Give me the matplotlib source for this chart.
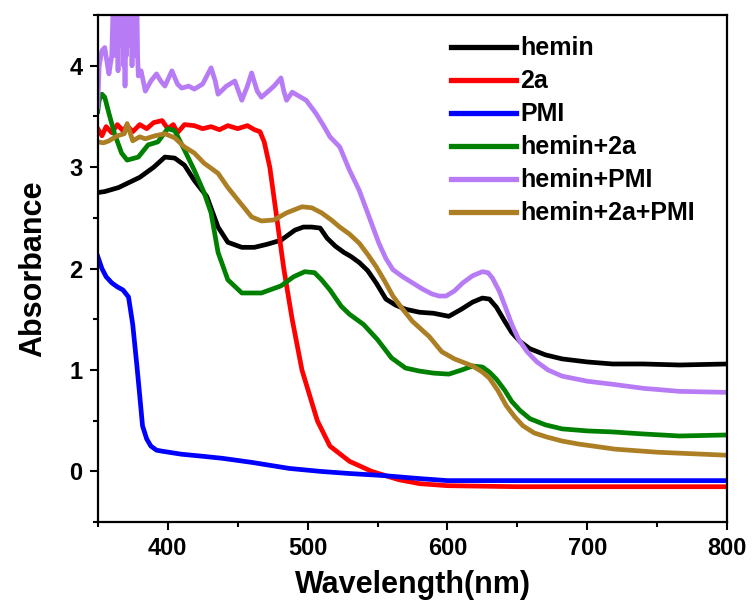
import matplotlib

matplotlib.use("Agg")

import matplotlib.pyplot as plt
from matplotlib.ticker import MultipleLocator

plt.rcParams["font.family"] = ["Liberation Sans", "DejaVu Sans"]
plt.rcParams["font.weight"] = "bold"

# hemin
hemin_wl = [350, 355, 360, 365, 371, 380, 390, 398, 405, 412, 419, 428, 436, 443,
            453, 462, 471, 481, 491, 497, 503, 509, 514, 520, 526, 531, 537, 543,
            549, 556, 563, 570, 580, 590, 601, 610, 618, 625, 630, 635, 641, 646,
            652, 659, 670, 682, 700, 718, 740, 766, 800]
hemin_abs = [2.75, 2.76, 2.78, 2.80, 2.84, 2.90, 3.00, 3.10, 3.09, 3.02, 2.87, 2.71,
             2.41, 2.26, 2.21, 2.21, 2.24, 2.28, 2.38, 2.41, 2.41, 2.40, 2.30, 2.22,
             2.16, 2.12, 2.06, 1.98, 1.86, 1.70, 1.64, 1.60, 1.57, 1.56, 1.53, 1.60,
             1.67, 1.71, 1.70, 1.62, 1.48, 1.37, 1.28, 1.21, 1.15, 1.11, 1.08, 1.06,
             1.06, 1.05, 1.06]

# 2a
a2_wl = [350, 353, 356, 360, 364, 368, 371, 375, 380, 385, 390, 396, 400, 404, 407,
         412, 419, 425, 431, 437, 443, 450, 457, 462, 466, 469, 473, 478, 483, 489,
         496, 507, 516, 530, 546, 565, 580, 600, 650, 700, 750, 800]
a2_abs = [3.38, 3.31, 3.40, 3.34, 3.42, 3.36, 3.41, 3.35, 3.42, 3.38, 3.44, 3.46,
          3.38, 3.42, 3.34, 3.42, 3.41, 3.38, 3.40, 3.37, 3.41, 3.38, 3.41, 3.37,
          3.35, 3.25, 3.00, 2.50, 2.00, 1.50, 1.00, 0.50, 0.25, 0.10, 0.00, -0.08,
          -0.12, -0.14, -0.15, -0.15, -0.15, -0.15]

# PMI
pmi_wl = [350, 353, 356, 360, 364, 368, 372, 375, 378, 380, 382, 385, 388, 392, 396,
          410, 425, 439, 460, 487, 510, 530, 554, 580, 600, 650, 700, 750, 800]
pmi_abs = [2.12, 2.00, 1.92, 1.86, 1.82, 1.79, 1.72, 1.45, 1.04, 0.75, 0.45, 0.32,
           0.25, 0.21, 0.20, 0.17, 0.15, 0.13, 0.09, 0.03, 0.00, -0.02, -0.04,
           -0.07, -0.09, -0.09, -0.09, -0.09, -0.09]

# hemin+2a
h2a_wl = [350, 351, 353, 355, 358, 362, 367, 371, 379, 386, 393, 400, 405, 412, 419,
          426, 431, 436, 443, 453, 467, 481, 490, 498, 505, 510, 516, 524, 530, 540,
          550, 560, 570, 580, 590, 601, 610, 618, 625, 630, 635, 641, 646, 652, 659,
          670, 682, 700, 718, 740, 766, 800]
h2a_abs = [3.55, 3.66, 3.72, 3.69, 3.53, 3.33, 3.14, 3.07, 3.10, 3.22, 3.25, 3.38,
           3.36, 3.17, 2.97, 2.75, 2.55, 2.16, 1.89, 1.76, 1.76, 1.83, 1.92, 1.97,
           1.96, 1.89, 1.79, 1.63, 1.55, 1.45, 1.30, 1.12, 1.02, 0.99, 0.97, 0.96,
           1.00, 1.04, 1.03, 0.98, 0.91, 0.80, 0.69, 0.60, 0.52, 0.46, 0.42, 0.40,
           0.39, 0.37, 0.35, 0.36]

# hemin+PMI (noisy below 380 nm, clipped at the top of the frame)
hpmi_wl = [350, 351, 353, 355, 357, 358, 360, 361, 361.5, 362, 362.5, 363, 363.5,
           364, 364.5, 365, 365.5, 366, 366.5, 367, 367.5, 368, 368.5, 369, 369.5,
           370, 370.5, 371, 371.5, 372, 372.5, 373, 373.5, 374, 374.5, 375, 375.5,
           376, 376.5, 377, 377.5, 378, 378.5, 379, 381, 384, 388, 392,
           395, 398, 403, 407, 410, 415, 419, 425, 431, 434, 436, 442, 448, 453, 457,
           460, 464, 467, 472, 476, 481, 483, 485, 489, 494, 499, 506, 511, 516, 523,
           530, 537, 544, 551, 556, 561, 568, 575, 582, 589, 594, 599, 605, 611, 618,
           625, 629, 632, 637, 642, 646, 651, 657, 664, 672, 682, 700, 718, 740, 766,
           800]
hpmi_abs = [3.60, 4.00, 4.15, 4.18, 4.00, 3.92, 4.10, 4.60, 4.20, 4.80, 4.10, 4.80,
            4.30, 4.80, 3.95, 4.80, 4.25, 4.80, 4.20, 4.80, 4.35, 4.80, 4.00, 4.80,
            3.80, 4.80, 4.10, 4.80, 4.30, 4.80, 4.20, 4.80, 4.30, 4.80, 4.00, 4.80,
            4.30, 4.80, 4.10, 4.80, 4.40, 4.60, 4.10, 3.90, 3.95, 3.75, 3.85, 3.92,
            3.85, 3.80, 3.95, 3.82, 3.78, 3.80,
            3.77, 3.82, 3.98, 3.85, 3.72, 3.80, 3.85, 3.66, 3.80, 3.93, 3.75, 3.69,
            3.75, 3.80, 3.88, 3.75, 3.66, 3.74, 3.70, 3.66, 3.53, 3.42, 3.30, 3.20,
            2.97, 2.77, 2.51, 2.25, 2.10, 1.99, 1.92, 1.86, 1.80, 1.75, 1.73, 1.73,
            1.78, 1.86, 1.93, 1.97, 1.96, 1.91, 1.78, 1.60, 1.45, 1.30, 1.18, 1.08,
            1.00, 0.94, 0.89, 0.86, 0.82, 0.79, 0.78]

# hemin+2a+PMI
h2apmi_wl = [350, 354, 358, 364, 369, 371, 375, 380, 384, 391, 398, 405, 412, 419,
             426, 436, 443, 450, 460, 467, 476, 485, 496, 503, 510, 517, 523, 530,
             537, 543, 549, 555, 561, 568, 575, 587, 596, 605, 618, 625, 630, 636,
             642, 648, 654, 662, 671, 682, 694, 720, 750, 800]
h2apmi_abs = [3.25, 3.24, 3.26, 3.31, 3.33, 3.43, 3.26, 3.30, 3.28, 3.31, 3.33, 3.29,
              3.20, 3.14, 3.04, 2.94, 2.80, 2.68, 2.51, 2.47, 2.48, 2.55, 2.61, 2.60,
              2.55, 2.48, 2.41, 2.34, 2.25, 2.14, 2.02, 1.88, 1.73, 1.60, 1.48, 1.33,
              1.18, 1.11, 1.04, 0.98, 0.92, 0.80, 0.65, 0.54, 0.45, 0.38, 0.34, 0.30,
              0.27, 0.22, 0.19, 0.16]

series = [
    ("hemin", hemin_wl, hemin_abs, "black"),
    ("2a", a2_wl, a2_abs, "#ff0000"),
    ("PMI", pmi_wl, pmi_abs, "#0000ff"),
    ("hemin+2a", h2a_wl, h2a_abs, "#008000"),
    ("hemin+PMI", hpmi_wl, hpmi_abs, "#b77cf5"),
    ("hemin+2a+PMI", h2apmi_wl, h2apmi_abs, "#ad7f24"),
]

fig = plt.figure(figsize=(7.52, 6.03), dpi=100)
ax = fig.add_axes([0.130, 0.134, 0.837, 0.841])

for name, wl, ab, col in series:
    ax.plot(wl, ab, color=col, lw=3.4, label=name, solid_joinstyle="round")

ax.set_xlim(350, 800)
ax.set_ylim(-0.5, 4.5)
ax.xaxis.set_major_locator(MultipleLocator(100))
ax.xaxis.set_minor_locator(MultipleLocator(50))
ax.yaxis.set_major_locator(MultipleLocator(1))
ax.yaxis.set_minor_locator(MultipleLocator(0.5))

for s in ax.spines.values():
    s.set_linewidth(1.6)
ax.tick_params(which="both", direction="out", top=False, right=False, width=1.5)
ax.tick_params(which="major", length=6, pad=5, labelsize=17)
ax.tick_params(which="minor", length=3.5)
for lab in ax.get_xticklabels() + ax.get_yticklabels():
    lab.set_fontweight("bold")

ax.set_xlabel("Wavelength(nm)", fontsize=22, fontweight="bold", labelpad=7)
ax.set_ylabel("Absorbance", fontsize=22, fontweight="bold", labelpad=15)

leg = ax.legend(loc="upper left", bbox_to_anchor=(0.562, 0.958), frameon=False,
                prop={"size": 18, "weight": "bold"}, handlelength=2.6,
                handletextpad=0.15, labelspacing=0.36, borderpad=0, borderaxespad=0)
for h in leg.get_lines():
    h.set_linewidth(3.8)

fig.savefig("out.png", dpi=100)
